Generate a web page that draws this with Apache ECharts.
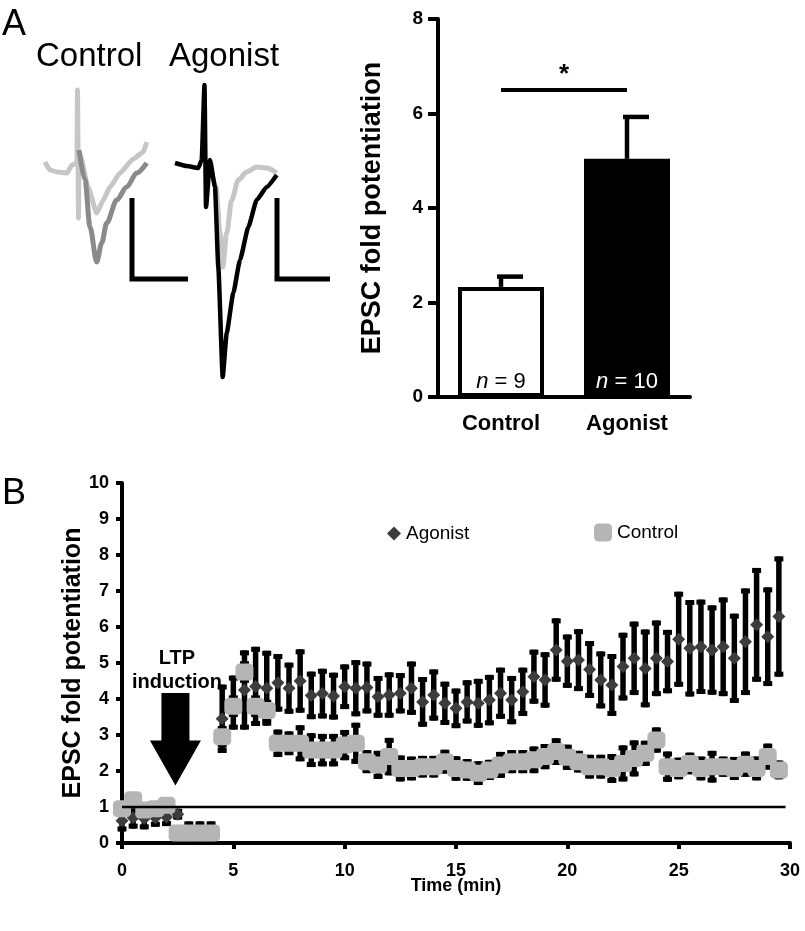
<!DOCTYPE html>
<html><head><meta charset="utf-8">
<script src="https://cdn.jsdelivr.net/npm/echarts/dist/echarts.min.js"></script>
<style>html,body{margin:0;padding:0;background:#fff}#c{width:805px;height:931px}</style>
</head><body><div id="c"></div>
<script>
// ---------- Panel A: example EPSC traces (time in ms, current in arbitrary pA units) ----------
const ctrlBaselineTrace = [[0.5,1],[1.0,-7],[1.7,-9],[2.7,-10],[3.2,-2],[3.7,0],[3.75,73],[3.85,-55],[3.9,0],[4.0,9],[4.8,-24],[5.67,-50],[6.33,-37],[7.0,-24],[8.0,-10],[9.33,4],[10.33,11],[10.67,21]];
const ctrlLtpTrace = [[3.9,13],[4.5,-17],[5.0,-64],[5.67,-99],[6.17,-80],[6.67,-60],[7.67,-37],[8.67,-24],[9.67,-10],[10.67,0]];
const agoBaselineTrace = [[17.0,0],[17.6,-24],[18.0,-70],[18.27,-104],[18.67,-70],[19.17,-37],[19.83,-17],[20.67,-9],[21.67,-4],[22.67,-5],[23.67,-10]];
const agoLtpTrace = [[13.5,0],[14.67,-3],[15.83,-5],[16.17,3],[16.45,78],[16.6,-44],[17.0,3],[17.5,-24],[17.83,-104],[18.27,-214],[18.67,-170],[19.33,-130],[20.0,-97],[20.83,-64],[21.67,-37],[22.67,-24],[23.67,-12]];
const ctrlScaleBar = [[9.2,-35],[9.2,-116],[14.8,-116]];
const agoScaleBar = [[23.7,-35],[23.7,-116],[29.0,-116]];

// ---------- Panel A: bar chart ----------
const barCategories = ['Control', 'Agonist'];
const barMeans = [2.33, 5.04];
const barSems = [0.26, 0.93];
const barN = [9, 10];
const sigLevel = 6.5;

// ---------- Panel B: time course ----------
const timePoints = [0,0.5,1,1.5,2,2.5,3,3.5,4,4.5,5,5.5,6,6.5,7,7.5,8,8.5,9,9.5,10,10.5,11,11.5,12,12.5,13,13.5,14,14.5,15,15.5,16,16.5,17,17.5,18,18.5,19,19.5,20,20.5,21,21.5,22,22.5,23,23.5,24,24.5,25,25.5,26,26.5,27,27.5,28,28.5,29,29.5];
const agonistMean = [0.62,0.7,0.68,0.7,0.72,0.8,0.3,0.3,0.3,3.45,3.9,4.25,4.35,4.3,4.45,4.3,4.5,4.1,4.15,4.08,4.34,4.3,4.32,4.06,4.11,4.16,4.3,3.92,4.11,3.88,3.74,3.92,3.88,3.97,4.16,3.97,4.2,4.62,4.53,5.36,5.05,5.08,4.82,4.53,4.39,4.9,5.13,4.85,5.13,5.04,5.66,5.41,5.45,5.36,5.45,5.13,5.59,6.06,5.73,6.29];
const agonistSem = [0.3,0.3,0.3,0.25,0.25,0.15,0.3,0.3,0.3,0.95,0.75,1.1,1.1,1.04,0.8,0.71,0.88,0.66,0.69,0.65,0.62,0.78,0.72,0.58,0.63,0.56,0.74,0.69,0.71,0.6,0.55,0.6,0.68,0.7,0.71,0.67,0.67,0.75,0.77,0.88,0.74,0.86,0.79,0.79,0.86,0.94,1.02,1.08,1.05,0.88,1.32,1.34,1.31,1.24,1.37,1.24,1.48,1.58,1.37,1.67];
const controlMean = [0.95,1.2,0.92,0.95,1.05,0.28,0.28,0.28,0.28,2.95,3.8,4.75,3.8,3.68,2.77,2.77,2.77,2.58,2.58,2.58,2.72,2.77,2.26,2.17,2.4,2.07,2.07,2.12,2.12,2.26,2.07,2.03,1.94,2.03,2.17,2.26,2.26,2.31,2.4,2.54,2.38,2.26,2.12,2.12,2.07,2.21,2.35,2.49,2.86,2.12,2.07,2.21,2.07,2.12,2.12,2.07,2.19,2.07,2.4,2.03];
const controlSem = [0.1,0.1,0.1,0.1,0.1,0.05,0.05,0.05,0.05,0.3,0.3,0.3,0.3,0.3,0.38,0.33,0.5,0.47,0.45,0.45,0.42,0.57,0.32,0.39,0.52,0.36,0.33,0.3,0.3,0.33,0.34,0.3,0.33,0.28,0.36,0.32,0.32,0.37,0.35,0.37,0.35,0.3,0.33,0.33,0.4,0.5,0.5,0.35,0.35,0.42,0.3,0.3,0.33,0.44,0.28,0.32,0.35,0.33,0.36,0.26];
const baselineLine = [[0,1],[29.8,1]];
const inductionArrow = [[2.4, 4.17, 1.6]]; // time, arrow top, arrow tip

const FF = '"Liberation Sans", Arial, sans-serif';

function errTimeItem(params, api) {
  const x = api.value(0), m = api.value(1), e = api.value(2);
  const top = api.coord([x, m + e]), bot = api.coord([x, m - e]);
  const hw = 4.5, st = {stroke:'#000', lineWidth:5.5}, cs = {stroke:'#000', lineWidth:5};
  return {type:'group', children:[
    {type:'line', shape:{x1:top[0], y1:top[1], x2:bot[0], y2:bot[1]}, style:st},
    {type:'line', shape:{x1:top[0]-hw, y1:top[1]+2.5, x2:top[0]+hw, y2:top[1]+2.5}, style:cs},
    {type:'line', shape:{x1:bot[0]-hw, y1:bot[1]-2.5, x2:bot[0]+hw, y2:bot[1]-2.5}, style:cs}
  ]};
}
function errBarItem(params, api) {
  const i = api.value(0), m = api.value(1), e = api.value(2);
  const base = api.coord([i, m]), top = api.coord([i, m + e]);
  const st = {stroke:'#000', lineWidth:4.5};
  return {type:'group', children:[
    {type:'line', shape:{x1:base[0], y1:base[1], x2:top[0], y2:top[1]+2}, style:st},
    {type:'line', shape:{x1:top[0]-4, y1:top[1]+2, x2:top[0]+22, y2:top[1]+2}, style:st}
  ]};
}
function arrowItem(params, api) {
  const t = api.value(0);
  const a = api.coord([t, api.value(1)]), b = api.coord([t, api.value(2)]);
  const sw = 14, hw = 25.5, hl = 45, x = a[0];
  return {type:'polygon', shape:{points:[[x-sw,a[1]],[x+sw,a[1]],[x+sw,b[1]-hl],[x+hw,b[1]-hl],[x,b[1]],[x-hw,b[1]-hl],[x-sw,b[1]-hl]]}, style:{fill:'#000'}};
}

const lineSeries = (data, color, width, z, smooth) => ({type:'line', xAxisIndex:0, yAxisIndex:0, data, showSymbol:false, symbol:'none', silent:true, z,
  smooth: smooth || false, smoothMonotone:'x', lineStyle:{color, width, join:'miter'}});

const chart = echarts.init(document.getElementById('c'));
chart.setOption({
  animation:false,
  backgroundColor:'#fff',
  textStyle:{fontFamily:FF},
  grid:[
    {left:40, top:80, width:300, height:300},
    {left:438, top:19, width:252, height:378},
    {left:122, top:483, width:668, height:360}
  ],
  xAxis:[
    {gridIndex:0, type:'value', min:0, max:30, show:false},
    {gridIndex:1, type:'category', data:barCategories,
      axisLine:{lineStyle:{color:'#000', width:4}}, axisTick:{show:false},
      axisLabel:{color:'#000', fontSize:22, fontWeight:'bold', margin:16, fontFamily:FF}},
    {gridIndex:2, type:'value', min:0, max:30, interval:5, name:'Time (min)', nameLocation:'middle', nameGap:34, nameMoveOverlap:false,
      nameTextStyle:{color:'#000', fontSize:18, fontWeight:'bold', fontFamily:FF},
      axisLine:{lineStyle:{color:'#000', width:4}}, axisTick:{length:6, lineStyle:{color:'#000', width:4}},
      axisLabel:{color:'#000', fontSize:18, fontWeight:'bold', margin:19, fontFamily:FF}, splitLine:{show:false}}
  ],
  yAxis:[
    {gridIndex:0, type:'value', min:-217, max:83, show:false},
    {gridIndex:1, type:'value', min:0, max:8, interval:2, name:'EPSC fold potentiation', nameLocation:'middle', nameGap:52, nameMoveOverlap:false,
      nameTextStyle:{color:'#000', fontSize:27, fontWeight:'bold', fontFamily:FF},
      axisLine:{show:true, lineStyle:{color:'#000', width:4}}, axisTick:{show:true, length:10, lineStyle:{color:'#000', width:4}},
      axisLabel:{color:'#000', fontSize:19, fontWeight:'bold', margin:15, fontFamily:FF}, splitLine:{show:false}},
    {gridIndex:2, type:'value', min:0, max:10, interval:1, name:'EPSC fold potentiation', nameLocation:'middle', nameGap:36, nameMoveOverlap:false,
      nameTextStyle:{color:'#000', fontSize:25, fontWeight:'bold', fontFamily:FF},
      axisLine:{show:true, lineStyle:{color:'#000', width:4}}, axisTick:{show:true, length:6, lineStyle:{color:'#000', width:4}},
      axisLabel:{color:'#000', fontSize:18, fontWeight:'bold', margin:13, fontFamily:FF}, splitLine:{show:false}}
  ],
  legend:[
    {data:[{name:'Agonist', icon:'diamond'}], left:382, top:519, itemWidth:14, itemHeight:14, selectedMode:false,
      textStyle:{fontSize:19, color:'#000', fontFamily:FF}},
    {data:[{name:'Control', icon:'roundRect'}], left:589, top:518, itemWidth:18, itemHeight:18, selectedMode:false,
      textStyle:{fontSize:19, color:'#000', fontFamily:FF}}
  ],
  graphic:[
    {type:'text', x:2, y:25, style:{text:'A', fontSize:36, fontFamily:FF, fill:'#000', verticalAlign:'middle'}},
    {type:'text', x:36, y:57, style:{text:'Control', fontSize:33, fontFamily:FF, fill:'#000', verticalAlign:'middle'}},
    {type:'text', x:169, y:57, style:{text:'Agonist', fontSize:33, fontFamily:FF, fill:'#000', verticalAlign:'middle'}},
    {type:'text', x:2, y:494, style:{text:'B', fontSize:36, fontFamily:FF, fill:'#000', verticalAlign:'middle'}},
    {type:'text', x:177, y:646, style:{text:'LTP\ninduction', fontSize:20, lineHeight:24, fontWeight:'bold', fontFamily:FF, fill:'#000', align:'center', verticalAlign:'top'}}
  ],
  series:[
    lineSeries(ctrlLtpTrace, '#8a8a8a', 5, 2, 0.3),
    lineSeries(ctrlBaselineTrace, '#c6c6c6', 5, 1, 0.15),
    lineSeries(agoBaselineTrace, '#c6c6c6', 5, 1, 0.3),
    lineSeries(agoLtpTrace, '#000', 4.5, 2, 0.15),
    lineSeries(ctrlScaleBar, '#000', 5, 3),
    lineSeries(agoScaleBar, '#000', 5, 3),
    {type:'bar', xAxisIndex:1, yAxisIndex:1, barWidth:86, silent:true,
      data: barMeans.map((v,i) => ({value:v,
        itemStyle: i === 0 ? {color:'#fff', borderColor:'#000', borderWidth:4} : {color:'#000', borderColor:'#000', borderWidth:4},
        label:{show:true, position:'insideBottom', distance:4, fontSize:22, fontFamily:FF, color: i === 0 ? '#000' : '#fff',
          formatter:'{i|n} = ' + barN[i], rich:{i:{fontStyle:'italic', fontSize:22, fontFamily:FF, color: i === 0 ? '#000' : '#fff'}}}
      })),
      markLine:{silent:true, symbol:'none', lineStyle:{color:'#000', width:4, type:'solid'},
        label:{show:true, position:'middle', formatter:'*', fontSize:26, fontWeight:'bold', color:'#000', distance:2},
        data:[[{coord:[barCategories[0], sigLevel]}, {coord:[barCategories[1], sigLevel]}]]}
    },
    {type:'custom', xAxisIndex:1, yAxisIndex:1, silent:true, z:3, renderItem:errBarItem,
      data: barMeans.map((m,i) => [i, m, barSems[i]])},
    {type:'custom', name:'agoErr', xAxisIndex:2, yAxisIndex:2, silent:true, z:2, renderItem:errTimeItem,
      encode:{x:0, y:1}, data: timePoints.map((t,i) => [t, agonistMean[i], agonistSem[i]])},
    {type:'scatter', name:'Agonist', xAxisIndex:2, yAxisIndex:2, silent:true, z:3, symbol:'diamond', symbolSize:13,
      itemStyle:{color:'#3c3c3c', opacity:1}, data: timePoints.map((t,i) => [t, agonistMean[i]])},
    {type:'custom', name:'ctrlErr', xAxisIndex:2, yAxisIndex:2, silent:true, z:4, renderItem:errTimeItem,
      encode:{x:0, y:1}, data: timePoints.map((t,i) => [t, controlMean[i], controlSem[i]])},
    {type:'scatter', name:'Control', xAxisIndex:2, yAxisIndex:2, silent:true, z:5, symbol:'roundRect', symbolSize:[18,17],
      itemStyle:{color:'#b5b5b5', opacity:1}, data: timePoints.map((t,i) => [t, controlMean[i]])},
    {type:'line', xAxisIndex:2, yAxisIndex:2, silent:true, z:6, data:baselineLine, showSymbol:false, symbol:'none',
      lineStyle:{color:'#000', width:2.5}},
    {type:'custom', xAxisIndex:2, yAxisIndex:2, silent:true, z:7, renderItem:arrowItem, data:inductionArrow}
  ]
});
</script></body></html>
